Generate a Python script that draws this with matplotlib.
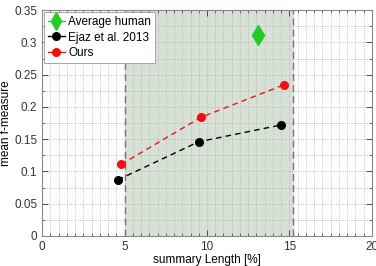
import matplotlib
matplotlib.use("Agg")
import matplotlib.pyplot as plt
from matplotlib.ticker import MultipleLocator
from matplotlib.lines import Line2D

plt.rcParams['font.family'] = ['Liberation Sans', 'DejaVu Sans']

human_x = [13.1]
human_y = [0.311]
ejaz_x = [4.6, 9.5, 14.5]
ejaz_y = [0.087, 0.146, 0.172]
ours_x = [4.8, 9.65, 14.65]
ours_y = [0.111, 0.184, 0.234]
shade_range = [5.0, 15.2]
labels = ['Average human', 'Ejaz et al. 2013', 'Ours']

fig = plt.figure(figsize=(3.76, 2.66), dpi=100)
ax = fig.add_axes([0.112, 0.113, 0.877, 0.849])

ax.axvspan(shade_range[0], shade_range[1], color='#d7e1d5', zorder=0)
for xv in shade_range:
    ax.axvline(xv, color='#777777', linestyle=(0, (5, 3)), linewidth=1.0, zorder=1)

ax.plot(human_x, human_y, linestyle='none', color='#22cc22', marker='d', markersize=10,
        markeredgecolor='#22cc22', zorder=5)
ax.plot(ejaz_x, ejaz_y, linestyle=(0, (4, 3)), color='black', marker='o', markersize=5.5,
        linewidth=1.0, zorder=5)
ax.plot(ours_x, ours_y, linestyle=(0, (4, 3)), color='#ee1111', marker='o', markersize=5.5,
        linewidth=1.0, markerfacecolor='#ee1111', markeredgecolor='#ee1111', zorder=5)

ax.set_xlim(0, 20)
ax.set_ylim(0, 0.35)
ax.xaxis.set_minor_locator(MultipleLocator(0.5))
ax.yaxis.set_minor_locator(MultipleLocator(0.025))
ax.set_yticks([0, 0.05, 0.1, 0.15, 0.2, 0.25, 0.3, 0.35])
ax.set_yticklabels(['0', '0.05', '0.1', '0.15', '0.2', '0.25', '0.3', '0.35'])
ax.set_xticks([0, 5, 10, 15, 20])
ax.set_xticklabels(['0', '5', '10', '15', '20'])

ax.grid(True, which='both', linestyle=':', color='#b0b0b0', linewidth=0.6, zorder=0)
ax.set_axisbelow(True)
ax.tick_params(which='both', direction='in', top=True, right=True, labelsize=8.5, colors='#333333')
ax.tick_params(which='major', length=4, width=0.6)
ax.tick_params(which='minor', length=2, width=0.5)
for s in ax.spines.values():
    s.set_color('#888888')
    s.set_linewidth(0.8)

ax.set_xlabel('summary Length [%]', fontsize=8.5, labelpad=1)
ax.set_ylabel('mean f-measure', fontsize=8.5)
ax.yaxis.set_label_coords(-0.09, 0.5)

handles = [
    Line2D([], [], color='#22cc22', marker='d', markersize=9, linewidth=1.0),
    Line2D([], [], color='black', marker='o', markersize=5.5, linewidth=1.0),
    Line2D([], [], color='#ee1111', marker='o', markersize=5.5, linewidth=1.0),
]
leg = ax.legend(handles, labels, loc='upper left', fontsize=8.5, handlelength=1.4,
                handletextpad=0.3, borderpad=0.3, labelspacing=0.3, fancybox=False,
                framealpha=1, edgecolor='#999999', borderaxespad=0.2)
leg.get_frame().set_linewidth(0.6)

fig.savefig('out.png', dpi=100)
